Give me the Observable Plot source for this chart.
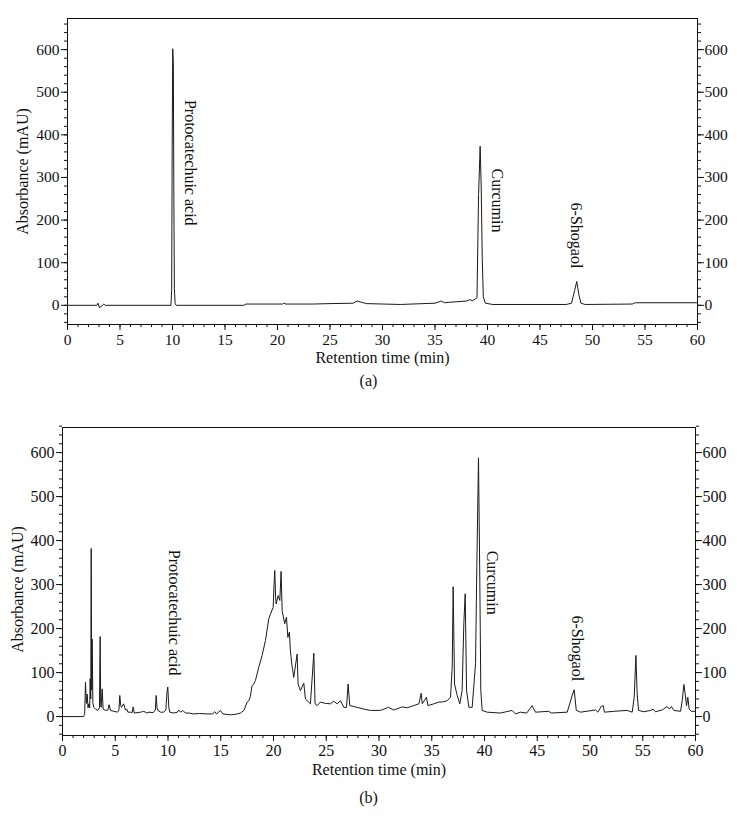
<!DOCTYPE html>
<html><head><meta charset="utf-8">
<script src="https://cdn.jsdelivr.net/npm/d3@7"></script>
<script src="https://cdn.jsdelivr.net/npm/@observablehq/plot@0.6"></script>
<style>
body{margin:0;background:#fff;}
#wrap{position:relative;width:737px;height:832px;font-family:"Liberation Serif",serif;color:#111;overflow:hidden;}
.panel{position:absolute;left:0;}
.cap{position:absolute;left:0;width:737px;text-align:center;font-size:16px;line-height:16px;}
</style></head><body><div id="wrap"></div>
<script>
// ---- Data: chromatogram (a) standards ----
const timeA = [0, 2.8, 2.9, 3.05, 3.2, 3.3, 3.45, 3.6, 9.85, 9.92, 9.97, 10.02, 10.08, 10.13, 10.18, 10.25, 10.35, 16.8, 17.0, 20.5, 20.6, 20.8, 23.4, 25, 27.2, 27.6, 28.0, 28.5, 31.7, 35.0, 35.6, 35.9, 36.3, 38.0, 38.3, 38.6, 39.0, 39.15, 39.3, 39.4, 39.5, 39.6, 39.8, 40.5, 47.5, 48.0, 48.3, 48.5, 48.7, 48.9, 49.3, 53.8, 53.95, 54.1, 60];
const absA  = [0, 0, 5, -6, -2, -1, 3, 0, 0, 35, 370, 602, 570, 250, 40, 4, 0, 0, 3, 3, 5, 3, 3, 4, 5, 10, 7, 4, 2, 5, 10, 6, 7, 10, 13, 11, 18, 260, 373, 280, 110, 20, 5, 2, 2, 5, 35, 56, 25, 5, 2, 3, 5, 6, 6];

// ---- Data: chromatogram (b) extract ----
const timeB = [0, 2.0, 2.1, 2.18, 2.26, 2.34, 2.42, 2.5, 2.58, 2.62, 2.68, 2.72, 2.77, 2.81, 2.88, 2.97, 3.13, 3.35, 3.5, 3.57, 3.62, 3.66, 3.76, 3.85, 4.08, 4.3, 4.42, 4.55, 4.87, 5.2, 5.35, 5.43, 5.52, 5.59, 5.8, 5.97, 6.1, 6.2, 6.45, 6.6, 6.7, 6.8, 7.4, 7.7, 8.0, 8.2, 8.6, 8.8, 8.88, 8.96, 9.04, 9.3, 9.6, 9.8, 9.9, 9.98, 10.08, 10.17, 10.55, 10.9, 11.0, 11.2, 11.4, 11.65, 12.0, 12.4, 13.0, 13.7, 14.2, 14.44, 14.6, 14.97, 15.2, 15.92, 16.4, 16.87, 17.2, 17.5, 17.66, 17.8, 17.97, 18.13, 18.29, 18.6, 18.92, 19.24, 19.55, 19.71, 19.97, 20.05, 20.12, 20.2, 20.25, 20.44, 20.6, 20.72, 20.82, 20.97, 21.07, 21.15, 21.23, 21.36, 21.51, 21.6, 21.73, 21.92, 22.24, 22.33, 22.55, 22.87, 23.03, 23.5, 23.82, 23.94, 24.14, 24.45, 24.92, 25.4, 25.71, 26.03, 26.35, 26.66, 26.92, 27.07, 27.23, 27.6, 28.56, 29.19, 30.14, 30.9, 31.4, 32.2, 32.67, 33.3, 33.78, 34.0, 34.1, 34.5, 34.63, 35.2, 35.67, 35.99, 36.46, 36.78, 36.94, 37.03, 37.16, 37.41, 37.66, 37.88, 38.04, 38.17, 38.3, 38.52, 38.83, 39.15, 39.27, 39.43, 39.56, 39.65, 39.78, 40.25, 41.5, 42.62, 42.94, 43.4, 44.0, 44.52, 44.83, 46.1, 46.32, 47.84, 48.31, 48.5, 48.7, 49.1, 50.52, 50.74, 51.06, 51.25, 51.37, 52.26, 53.52, 54.0, 54.19, 54.35, 54.47, 54.6, 55.1, 55.74, 56.0, 56.2, 56.84, 57.31, 57.53, 57.72, 57.94, 58.58, 58.74, 58.9, 59.02, 59.15, 59.27, 59.4, 59.6, 60];
const absB  = [0, 0, 5, 78, 30, 51, 20, 29, 20, 86, 40, 382, 60, 176, 30, 21, 17, 14, 20, 182, 30, 21, 63, 17, 14, 15, 27, 14, 12, 10, 15, 48, 25, 21, 29, 15, 17, 10, 10, 9, 22, 8, 10, 12, 8, 10, 9, 15, 48, 20, 14, 10, 10, 15, 55, 67, 20, 10, 8, 10, 15, 10, 14, 8, 8, 6, 7, 6, 6, 11, 6, 14, 6, 4, 5, 8, 14, 33, 36, 45, 70, 74, 82, 112, 139, 173, 222, 233, 248, 300, 332, 270, 256, 275, 264, 330, 241, 222, 211, 220, 226, 180, 192, 150, 120, 89, 142, 74, 59, 76, 40, 29, 144, 29, 25, 33, 30, 29, 35, 29, 36, 21, 21, 74, 25, 23, 17, 14, 14, 21, 15, 22, 20, 25, 29, 53, 29, 44, 25, 29, 33, 33, 36, 44, 112, 295, 74, 48, 29, 59, 211, 279, 59, 21, 21, 120, 339, 588, 302, 59, 14, 10, 8, 14, 6, 10, 8, 25, 10, 12, 8, 10, 48, 61, 14, 10, 15, 10, 23, 25, 10, 12, 14, 10, 44, 139, 52, 14, 11, 14, 17, 11, 15, 23, 17, 23, 14, 12, 36, 73, 52, 25, 44, 17, 12, 12];

// ---- Peak labels ----
const peakNames = ["Protocatechuic acid", "Curcumin", "6-Shogaol"];
const labelXA = [11.7, 40.95, 48.48];
const labelYA = [482, 321, 241];
const labelXB = [10.55, 40.73, 48.79];
const labelYB = [379, 377, 230];

// ---- Ticks ----
const xMajor = [0, 5, 10, 15, 20, 25, 30, 35, 40, 45, 50, 55, 60];
const xMinor = d3.range(0, 61, 1);
const yMajor = [0, 100, 200, 300, 400, 500, 600];
const yMinor = d3.range(-40, 661, 20);
const xTitle = "Retention time (min)";
const yTitle = "Absorbance (mAU)";

function chart({time, abs, height, mt, ml, mr, mb, ydom, fs, lx, ly, ydy, tdy, xpad}) {
  const data = time.map((t, i) => ({t, a: abs[i]}));
  const lab = peakNames.map((n, i) => ({n, x: lx[i], y: ly[i]}));
  return Plot.plot({
    width: 737, height, marginTop: mt, marginLeft: ml, marginRight: mr, marginBottom: mb,
    style: {fontFamily: "'Liberation Serif', serif", fontSize: fs + "px", color: "#111", background: "transparent", overflow: "visible"},
    x: {domain: [0, 60]},
    y: {domain: ydom},
    marks: [
      Plot.frame({stroke: "#111", strokeWidth: 1}),
      Plot.axisX({ticks: xMinor, tickSize: 3, text: null, label: null}),
      Plot.axisX({ticks: xMajor, tickSize: 6, tickPadding: xpad, label: null, tickFormat: d => String(d)}),
      Plot.axisY({anchor: "left", ticks: yMinor, tickSize: 3, text: null, label: null}),
      Plot.axisY({anchor: "left", ticks: yMajor, tickSize: 6, tickPadding: 2, label: null, tickFormat: d => String(d)}),
      Plot.axisY({anchor: "right", ticks: yMinor, tickSize: 3, text: null, label: null}),
      Plot.axisY({anchor: "right", ticks: yMajor, tickSize: 6, tickPadding: 1, label: null, tickFormat: d => String(d)}),
      Plot.line(data, {x: "t", y: "a", stroke: "#1a1a1a", strokeWidth: 1, curve: "linear"}),
      Plot.text(lab, {x: "x", y: "y", text: "n", rotate: 90, textAnchor: "start", lineAnchor: "middle", fontSize: 16, fill: "#111"}),
      Plot.text([xTitle], {frameAnchor: "bottom", dy: tdy, lineAnchor: "middle", fontSize: 16, fill: "#111"}),
      Plot.text([yTitle], {frameAnchor: "left", dx: -45, dy: ydy, rotate: -90, textAnchor: "middle", lineAnchor: "middle", fontSize: 16, fill: "#111"})
    ]
  });
}

const wrap = document.getElementById("wrap");
const pa = chart({time: timeA, abs: absA, height: 370, mt: 18, ml: 67, mr: 40, mb: 46, ydom: [-45, 673], fs: 15.5, lx: labelXA, ly: labelYA, ydy: 0, tdy: 33, xpad: 3});
pa.classList.add("panel"); pa.style.top = "0px";
wrap.appendChild(pa);
const ca = document.createElement("div"); ca.className = "cap"; ca.style.top = "373px"; ca.textContent = "(a)";
wrap.appendChild(ca);

const pb = chart({time: timeB, abs: absB, height: 380, mt: 27, ml: 62, mr: 42, mb: 45, ydom: [-43, 657], fs: 16, lx: labelXB, ly: labelYB, ydy: 8, tdy: 34, xpad: 3});
pb.classList.add("panel"); pb.style.top = "400px";
wrap.appendChild(pb);
const cb = document.createElement("div"); cb.className = "cap"; cb.style.top = "790px"; cb.textContent = "(b)";
wrap.appendChild(cb);
</script>
</body></html>
